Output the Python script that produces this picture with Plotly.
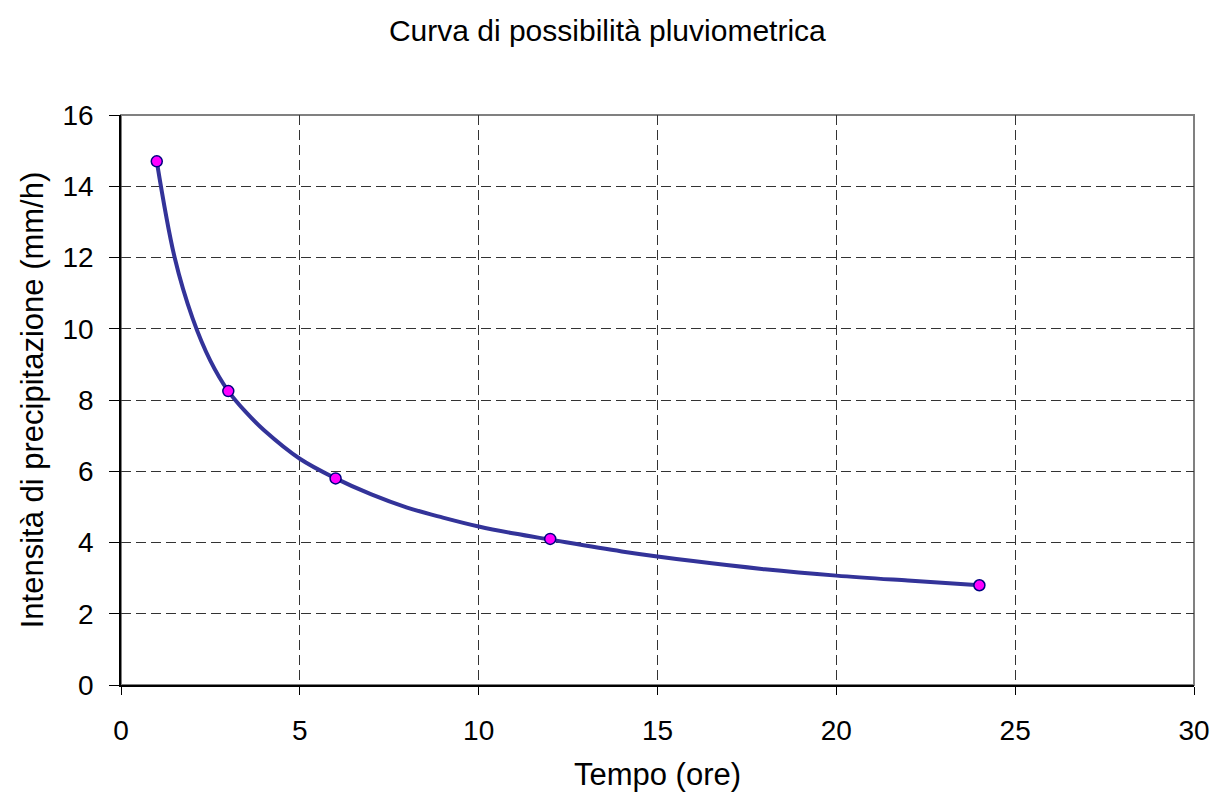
import plotly.graph_objects as go

# Observed points (durations in hours, intensity mm/h)
obs_t = [1, 3, 6, 12, 24]
obs_i = [14.7, 8.25, 5.8, 4.1, 2.8]

# Curve values
curve_t = [1, 1.5, 2, 2.5, 3, 3.5, 4, 5, 6, 7, 8, 9, 10, 11, 12, 14, 16, 18, 20, 22, 24]
curve_i = [14.7, 12.0, 10.3, 9.1, 8.25, 7.65, 7.15, 6.35, 5.8, 5.35, 4.98, 4.7, 4.45,
           4.25, 4.08, 3.75, 3.48, 3.25, 3.07, 2.93, 2.8]

x_ticks = [0, 5, 10, 15, 20, 25, 30]
y_ticks = [0, 2, 4, 6, 8, 10, 12, 14, 16]

FONT = "Liberation Sans, Arial, sans-serif"

fig = go.Figure()
fig.add_trace(go.Scatter(
    x=curve_t, y=curve_i, mode="lines",
    line=dict(color="#333399", width=4, shape="spline", smoothing=1.0),
    hoverinfo="skip", showlegend=False,
))
fig.add_trace(go.Scatter(
    x=obs_t, y=obs_i, mode="markers",
    marker=dict(color="#FF00FF", size=11, line=dict(color="#000080", width=1.5)),
    showlegend=False,
))

fig.update_layout(
    width=1222, height=800,
    margin=dict(l=121, r=22, t=115, b=115),
    paper_bgcolor="white", plot_bgcolor="white",
    font=dict(family=FONT, color="black", size=28),
    title=dict(text="Curva di possibilità pluviometrica", x=0.497, xanchor="center",
               y=1 - 30 / 800, yanchor="middle", font=dict(size=30, family=FONT)),
    shapes=[dict(type="rect", xref="paper", yref="paper", x0=0, x1=1, y0=0, y1=1,
                 line=dict(color="#808080", width=2), layer="below")],
)
fig.update_xaxes(
    range=[0, 30], tickvals=x_ticks, ticks="outside", ticklen=8, tickcolor="black",
    showline=True, linecolor="black", linewidth=1.5,
    showgrid=True, gridcolor="#333333", griddash="10px,5px", gridwidth=1,
    zeroline=False, ticklabelstandoff=12,
    title=dict(text="Tempo (ore)", standoff=18, font=dict(size=31)),
    tickfont=dict(size=28),
)
fig.update_yaxes(
    range=[0, 16], tickvals=y_ticks, ticks="outside", ticklen=10, tickcolor="black",
    showline=True, linecolor="black", linewidth=1.5,
    showgrid=True, gridcolor="#333333", griddash="10px,5px", gridwidth=1,
    zeroline=False, ticklabelstandoff=10,
    title=dict(text="Intensità di precipitazione (mm/h)", standoff=10, font=dict(size=31)),
    tickfont=dict(size=28),
)

fig.write_html("out.html")
